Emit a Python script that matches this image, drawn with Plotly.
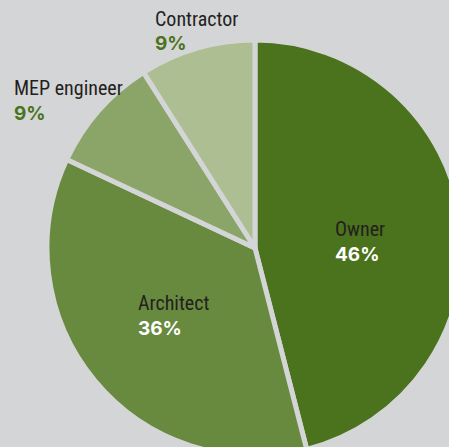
import plotly.graph_objects as go

# ---- data ----
labels = ["Owner", "Architect", "MEP engineer", "Contractor"]
values = [46, 36, 9, 9]

# ---- style ----
colors = ["#4b731d", "#688a3f", "#8aa567", "#adbf92"]
BG = "#d4d5d7"
W, H = 470, 465
CX, CY, R = 255, 248, 208  # pie centre / radius in px

LABEL_FONT = "Roboto, sans-serif"
PCT_FONT = "Inter, Lato, Open Sans, sans-serif"
# label anchor (left x, label centre y) per slice, in px
label_pos = {
    "Owner": (333, 229),
    "Architect": (136, 303),
    "MEP engineer": (12, 88),
    "Contractor": (153, 19),
}
inside = {"Owner", "Architect"}

fig = go.Figure(go.Pie(
    labels=labels,
    values=values,
    sort=False,
    direction="clockwise",
    rotation=0,
    marker=dict(colors=colors, line=dict(color=BG, width=5)),
    textinfo="none",
    hoverinfo="label+percent",
    showlegend=False,
    domain=dict(x=[(CX - R) / W, (CX + R) / W], y=[1 - (CY + R) / H, 1 - (CY - R) / H]),
))

total = sum(values)
for lab, val in zip(labels, values):
    x, y = label_pos[lab]
    pct = f"{round(100 * val / total)}%"
    fig.add_annotation(
        x=x / W, y=1 - y / H, xref="paper", yref="paper",
        xanchor="left", yanchor="middle", showarrow=False,
        text=f"<span style='font-stretch:condensed'>{lab}</span>",
        font=dict(family=LABEL_FONT, size=20, color="#231f20"),
    )
    fig.add_annotation(
        x=x / W, y=1 - (y + 25) / H, xref="paper", yref="paper",
        xanchor="left", yanchor="middle", showarrow=False,
        text=f"<b>{pct}</b>",
        font=dict(family=PCT_FONT, size=19, color="#ffffff" if lab in inside else "#4b731d"),
    )

fig.update_layout(
    width=W, height=H,
    margin=dict(l=0, r=0, t=0, b=0),
    paper_bgcolor=BG, plot_bgcolor=BG,
)

fig.write_html(
    "out.html",
    config={"displayModeBar": False},
    post_script="document.body.style.margin='0';document.body.style.overflow='hidden';document.documentElement.style.overflow='hidden';",
)
